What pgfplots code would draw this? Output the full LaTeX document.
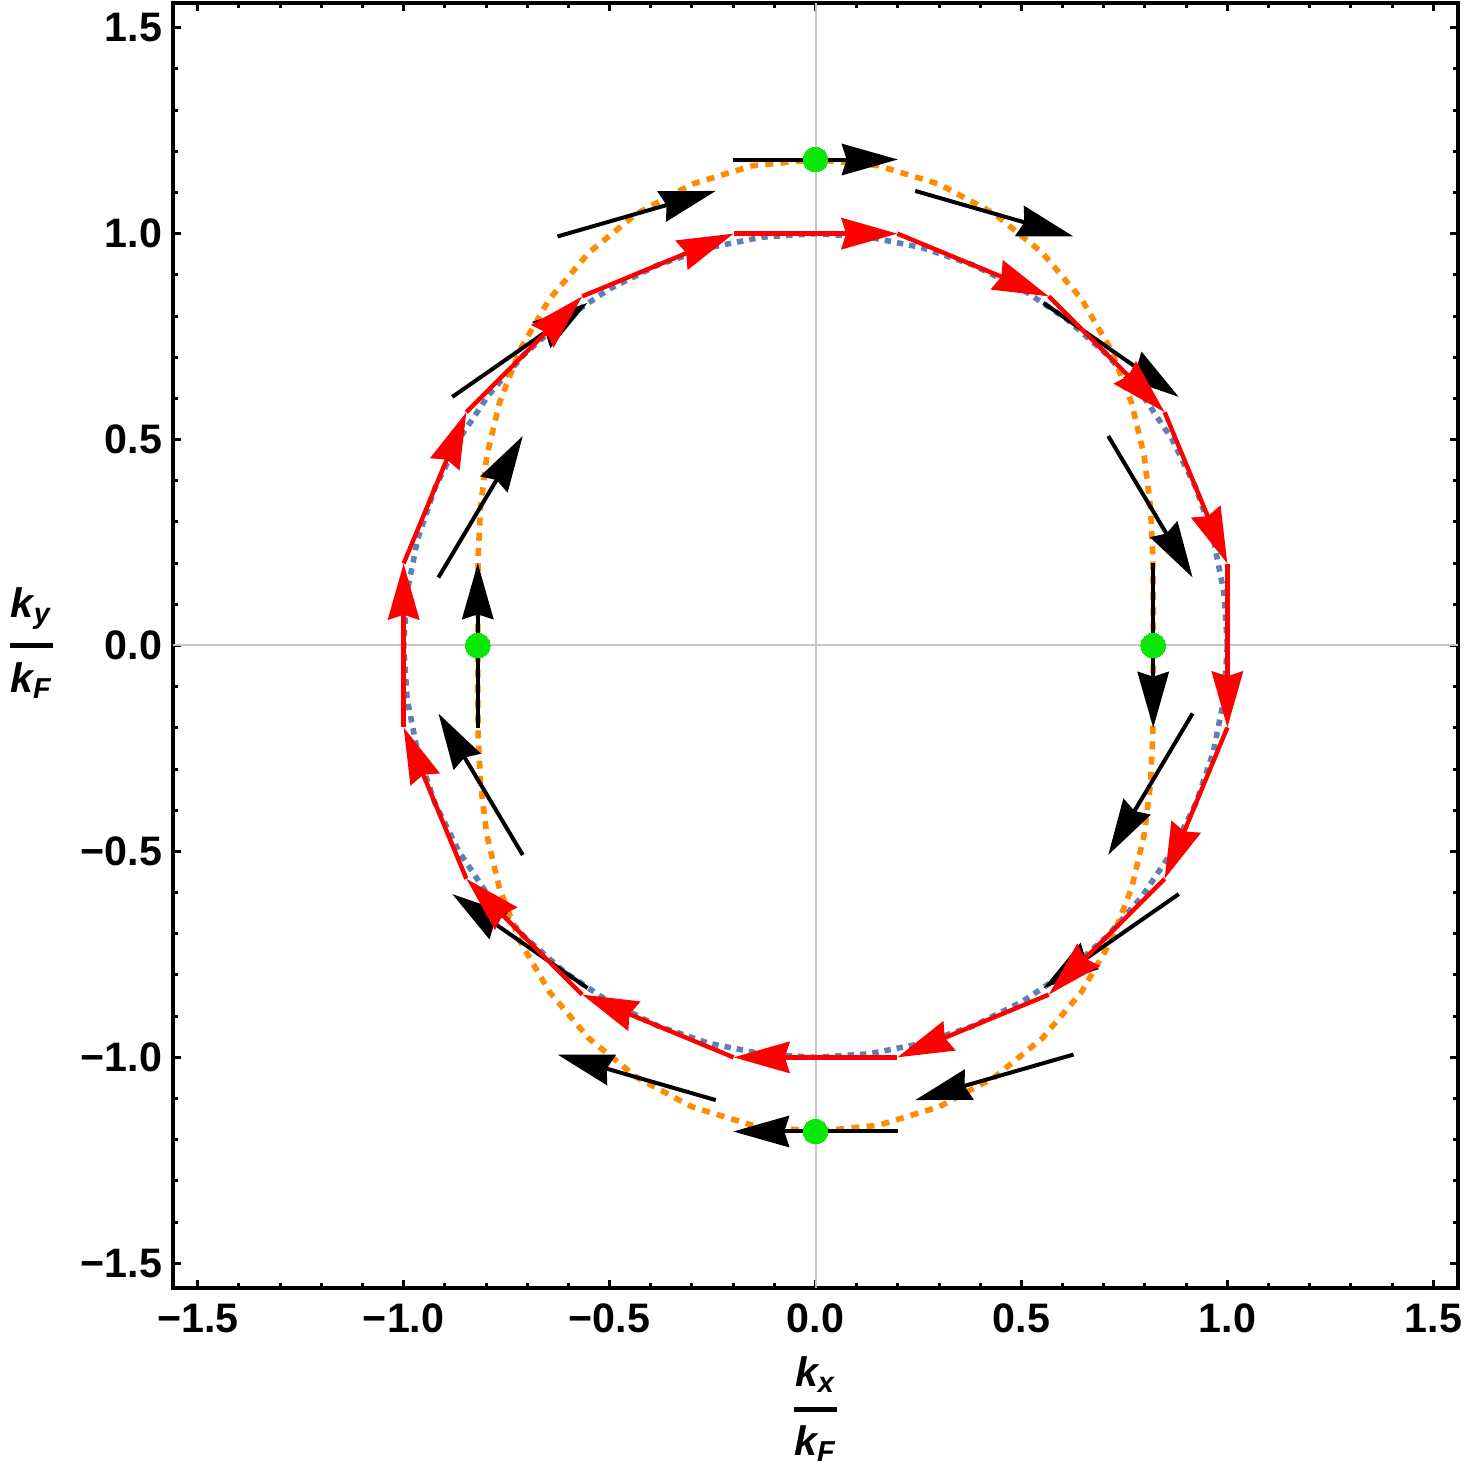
\documentclass[border=0pt]{standalone}
\usepackage{fontspec}
\setmainfont{Liberation Sans}
\usepackage{pgfplots}
\usepackage{pgfplotstable}
\pgfplotsset{compat=1.18}
\usetikzlibrary{arrows.meta}
\definecolor{mblue}{RGB}{94,129,181}
\definecolor{morange}{RGB}{255,140,0}
\definecolor{mgreen}{RGB}{10,232,10}

% red arrows: tail (x,y) and displacement (u,v)
\pgfplotstableread{
x y u v
-0.1989 1.0000 0.3978 0
0.1989 1.0000 0.3675 -0.1523
0.5664 0.8477 0.2813 -0.2813
0.8477 0.5664 0.1523 -0.3675
1.0000 0.1989 0 -0.3978
1.0000 -0.1989 -0.1523 -0.3675
0.8477 -0.5664 -0.2813 -0.2813
0.5664 -0.8477 -0.3675 -0.1523
0.1989 -1.0000 -0.3978 0
-0.1989 -1.0000 -0.3675 0.1523
-0.5664 -0.8477 -0.2813 0.2813
-0.8477 -0.5664 -0.1523 0.3675
-1.0000 -0.1989 0 0.3978
-1.0000 0.1989 0.1523 0.3675
-0.8477 0.5664 0.2813 0.2813
-0.5664 0.8477 0.3675 0.1523
}\redarrows

% black arrows
\pgfplotstableread{
x y u v
-0.2000 1.1800 0.4000 0
0.2421 1.1037 0.3844 -0.1106
0.5535 0.8318 0.3284 -0.2282
0.7108 0.5086 0.2048 -0.3436
0.8200 0.2000 0 -0.4000
0.9156 -0.1650 -0.2048 -0.3436
0.8819 -0.6036 -0.3284 -0.2282
0.6265 -0.9931 -0.3844 -0.1106
0.2000 -1.1800 -0.4000 0
-0.2421 -1.1037 -0.3844 0.1106
-0.5535 -0.8318 -0.3284 0.2282
-0.7108 -0.5086 -0.2048 0.3436
-0.8200 -0.2000 0 0.4000
-0.9156 0.1650 0.2048 0.3436
-0.8819 0.6036 0.3284 0.2282
-0.6265 0.9931 0.3844 0.1106
}\blackarrows

\newcommand{\lbl}[1]{\mbox{\bfseries\itshape\fontsize{10.3}{12}\selectfont k\textsubscript{#1}}}

\begin{document}
\begin{tikzpicture}
\begin{axis}[
  scale only axis,
  width=321.25pt, height=321.25pt,
  xmin=-1.56, xmax=1.56, ymin=-1.56, ymax=1.56,
  axis line style={line width=1pt},
  xtick={-1.5,-1,-0.5,0,0.5,1,1.5},
  ytick={-1.5,-1,-0.5,0,0.5,1,1.5},
  xticklabels={−1.5,−1.0,−0.5,0.0,0.5,1.0,1.5},
  yticklabels={−1.5,−1.0,−0.5,0.0,0.5,1.0,1.5},
  minor tick num=4,
  tick align=inside,
  major tick length=2pt,
  minor tick length=1.25pt,
  tick style={line width=0.75pt, black},
  xticklabel style={font=\bfseries\fontsize{10.3}{12}\selectfont, inner sep=0pt, yshift=-3.75pt},
  yticklabel style={font=\bfseries\fontsize{10.3}{12}\selectfont, inner sep=0pt, xshift=-2.5pt},
  label style={font=\bfseries\itshape\fontsize{10.3}{12}\selectfont, inner sep=0pt},
  every axis x label/.style={at={(rel axis cs:0.5,0)}, anchor=base, yshift=-32.8pt},
  every axis y label/.style={at={(rel axis cs:0,0.5)}, anchor=base, xshift=-35.4pt, yshift=-2.6pt},
  xlabel={$\displaystyle{\lbl{x}\above 1.2pt\lbl{F}}$},
  ylabel={$\displaystyle{\lbl{y}\above 1.2pt\lbl{F}}$},
]
% axes through origin
\addplot[gray!45, line width=0.5pt, forget plot] coordinates {(0,-1.56) (0,1.56)};
\addplot[gray!45, line width=0.5pt, forget plot] coordinates {(-1.56,0) (1.56,0)};

% blue dotted unit circle
\addplot[mblue, line width=1.4pt, dash pattern=on 1.6pt off 1.5pt] coordinates {
(1,0) (0.9914,0.1305) (0.9659,0.2588) (0.9239,0.3827) (0.8660,0.5) (0.7934,0.6088)
(0.7071,0.7071) (0.6088,0.7934) (0.5,0.8660) (0.3827,0.9239) (0.2588,0.9659) (0.1305,0.9914)
(0,1) (-0.1305,0.9914) (-0.2588,0.9659) (-0.3827,0.9239) (-0.5,0.8660) (-0.6088,0.7934)
(-0.7071,0.7071) (-0.7934,0.6088) (-0.8660,0.5) (-0.9239,0.3827) (-0.9659,0.2588) (-0.9914,0.1305)
(-1,0) (-0.9914,-0.1305) (-0.9659,-0.2588) (-0.9239,-0.3827) (-0.8660,-0.5) (-0.7934,-0.6088)
(-0.7071,-0.7071) (-0.6088,-0.7934) (-0.5,-0.8660) (-0.3827,-0.9239) (-0.2588,-0.9659) (-0.1305,-0.9914)
(0,-1) (0.1305,-0.9914) (0.2588,-0.9659) (0.3827,-0.9239) (0.5,-0.8660) (0.6088,-0.7934)
(0.7071,-0.7071) (0.7934,-0.6088) (0.8660,-0.5) (0.9239,-0.3827) (0.9659,-0.2588) (0.9914,-0.1305)
(1,0)};

% orange dotted curve
\addplot[morange, line width=1.4pt, dash pattern=on 2pt off 1.8pt] coordinates {
(0.8200,0) (0.8200,0.1080) (0.8190,0.2195) (0.8132,0.3368) (0.7979,0.4606) (0.7675,0.5889)
(0.7177,0.7177) (0.6457,0.8414) (0.5506,0.9537) (0.4343,1.0484) (0.3001,1.1201) (0.1534,1.1648)
(0,1.18) (-0.1534,1.1648) (-0.3001,1.1201) (-0.4343,1.0484) (-0.5506,0.9537) (-0.6457,0.8414)
(-0.7177,0.7177) (-0.7675,0.5889) (-0.7979,0.4606) (-0.8132,0.3368) (-0.8190,0.2195) (-0.8200,0.1080)
(-0.8200,0) (-0.8200,-0.1080) (-0.8190,-0.2195) (-0.8132,-0.3368) (-0.7979,-0.4606) (-0.7675,-0.5889)
(-0.7177,-0.7177) (-0.6457,-0.8414) (-0.5506,-0.9537) (-0.4343,-1.0484) (-0.3001,-1.1201) (-0.1534,-1.1648)
(0,-1.18) (0.1534,-1.1648) (0.3001,-1.1201) (0.4343,-1.0484) (0.5506,-0.9537) (0.6457,-0.8414)
(0.7177,-0.7177) (0.7675,-0.5889) (0.7979,-0.4606) (0.8132,-0.3368) (0.8190,-0.2195) (0.8200,-0.1080)
(0.8200,0)};

% green points
\addplot[mgreen, only marks, mark=*, mark size=3.1pt, mark options={fill=mgreen, draw=mgreen, line width=0pt}] coordinates {
(0,1.18) (0.82,0) (0,-1.18) (-0.82,0)};

% black arrows
\addplot[black, line width=1pt, -{Stealth[length=14pt, width=7.8pt, inset=1.2pt]},
  quiver={u=\thisrow{u}, v=\thisrow{v}}] table[x=x, y=y] {\blackarrows};

% red arrows
\addplot[red, line width=1.1pt, -{Stealth[length=14pt, width=7.8pt, inset=1.2pt]},
  quiver={u=\thisrow{u}, v=\thisrow{v}}] table[x=x, y=y] {\redarrows};
\end{axis}
\pgfresetboundingbox
\path[use as bounding box] ([xshift=-43.25pt,yshift=-48pt]current axis.south west) rectangle ([xshift=1.75pt,yshift=0.75pt]current axis.north east);
\end{tikzpicture}
\end{document}
